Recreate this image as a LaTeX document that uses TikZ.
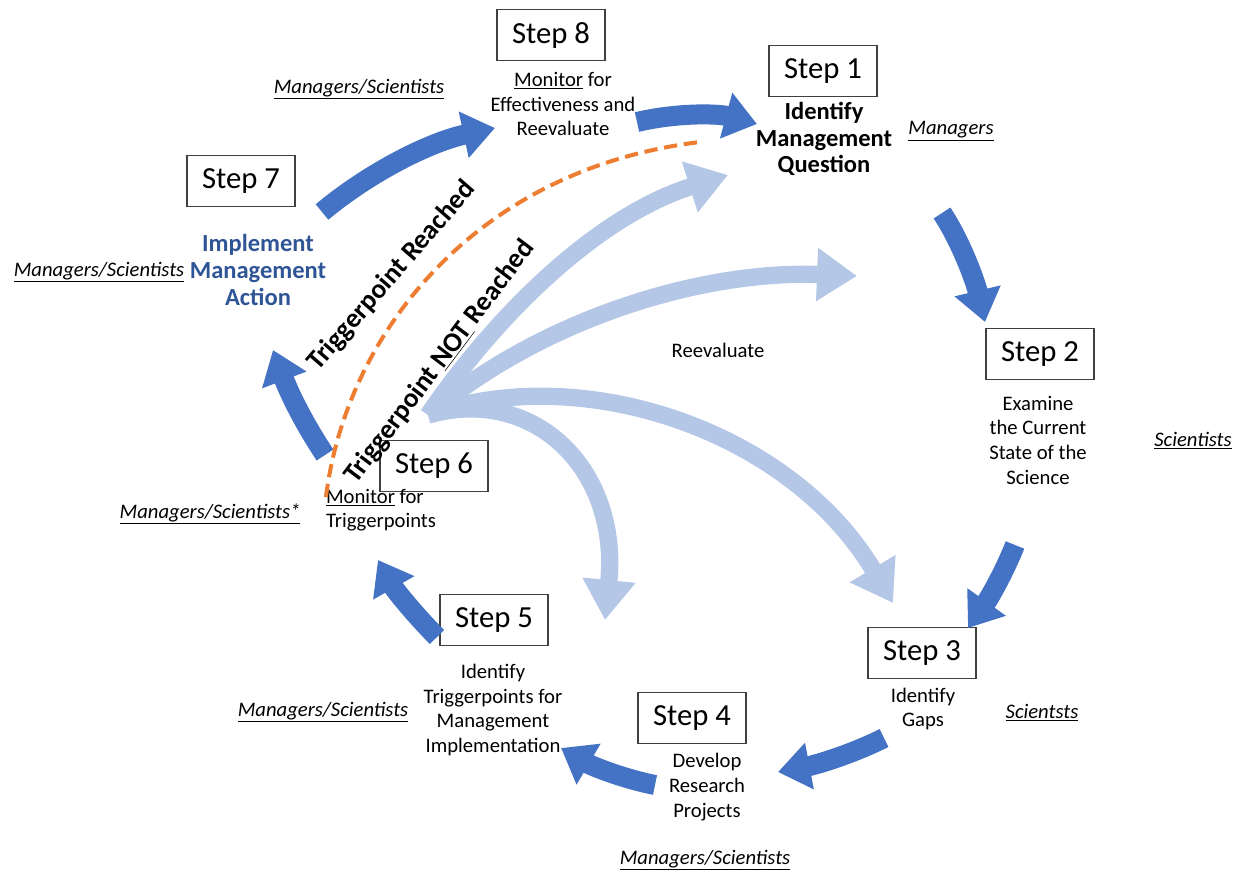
\documentclass[tikz,border=0pt]{standalone}
\usepackage{fontspec}
\setmainfont{Carlito}
\usetikzlibrary{arrows.meta}
\definecolor{darkflow}{HTML}{4472C4}
\definecolor{lightflow}{HTML}{B4C7E7}
\definecolor{trigline}{HTML}{ED7D31}
\definecolor{acttext}{HTML}{2F5597}
\begin{document}
\begin{tikzpicture}[x=0.75pt,y=-0.75pt,
    stepbox/.style={draw=black!75,line width=0.8pt,minimum width=81pt,minimum height=38pt,inner sep=0pt,font=\fontsize{23}{28}\selectfont},
    desc/.style={align=center,font=\fontsize{15.5}{18.5}\selectfont},
    keydesc/.style={align=center,font=\bfseries\fontsize{18.4}{20}\selectfont},
    role/.style={font=\fontsize{15.5}{18.5}\selectfont\itshape},
    turn/.style={font=\bfseries\fontsize{20.5}{24}\selectfont},
    main/.style={draw=darkflow,line width=15pt,-{Triangle[width=34pt,length=24pt]}},
    back/.style={draw=lightflow,line width=13pt,-{Triangle[width=38pt,length=30pt]}}]
    \useasboundingbox (0,0) rectangle (1249,872);
    % steps
    \node[stepbox] (s8) at (551,35) {Step 8};
    \node[stepbox] (s1) at (823,71) {Step 1};
    \node[stepbox] (s2) at (1040,354) {Step 2};
    \node[stepbox] (s3) at (922,653) {Step 3};
    \node[stepbox] (s4) at (692,718) {Step 4};
    \node[stepbox] (s5) at (494,620) {Step 5};
    \node[stepbox] (s6) at (434,466) {Step 6};
    \node[stepbox] (s7) at (241,181) {Step 7};
    \node[desc] (t8) at (563,104) {\underline{Monitor} for\\Effectiveness and\\Reevaluate};
    \node[keydesc] (t1) at (824,139) {Identify\\Management\\Question};
    \node[desc] (t2) at (1038,440) {Examine\\the Current\\State of the\\Science};
    \node[desc] (t3) at (923,709) {Identify\\Gaps};
    \node[desc] (t4) at (707,787) {Develop\\Research\\Projects};
    \node[desc] (t5) at (493,710) {Identify\\Triggerpoints for\\Management\\Implementation};
    \node[desc,align=left] (t6) at (381,510) {\underline{Monitor} for\\Triggerpoints};
    \node[keydesc,text=acttext] (t7) at (258,270) {Implement\\Management\\Action};
    \node[role] (w8) at (359,89) {\underline{Managers/Scientists}};
    \node[role] (w1) at (951,131) {\underline{Managers}};
    \node[role] (w2) at (1193,441) {\underline{Scientists}};
    \node[role] (w3) at (1042,713) {\underline{Scientsts}};
    \node[role] (w4) at (705,860) {\underline{Managers/Scientists}};
    \node[role] (w5) at (323,712) {\underline{Managers/Scientists}};
    \node[role] (w6) at (210,514) {\underline{Managers/Scientists*}};
    \node[role] (w7) at (99,272) {\underline{Managers/Scientists}};
    \node[desc] (re) at (718,350) {Reevaluate};
    % reevaluate loops
    \coordinate (hub) at (428,415);
    \coordinate (ha) at (728,175);
    \coordinate (hb) at (857,276);
    \coordinate (hc) at (893,603);
    \coordinate (hd) at (605,620);
    \draw[back] (hub) .. controls (500,310) and (600,215) .. (ha);
    \draw[back] (hub) .. controls (540,320) and (700,270) .. (hb);
    \draw[back] (hub) .. controls (580,360) and (790,430) .. (hc);
    \draw[back] (hub) .. controls (535,385) and (620,470) .. (hd);
    % main cycle
    \coordinate (a78) at (322,212);
    \coordinate (b78) at (495,128);
    \coordinate (a81) at (637,122);
    \coordinate (b81) at (757,124);
    \coordinate (a12) at (942,213);
    \coordinate (b12) at (985,322);
    \coordinate (a23) at (1015,545);
    \coordinate (b23) at (968,628);
    \coordinate (a34) at (884,738);
    \coordinate (b34) at (778,772);
    \coordinate (a45) at (655,785);
    \coordinate (b45) at (561,748);
    \coordinate (a56) at (437,637);
    \coordinate (b56) at (378,560);
    \coordinate (a67) at (325,455);
    \coordinate (b67) at (273,350);
    \draw[main] (a78) .. controls (370,172) and (430,142) .. (b78);
    \draw[main] (a81) .. controls (680,112) and (720,114) .. (b81);
    \draw[main] (a12) .. controls (960,240) and (975,280) .. (b12);
    \draw[main] (a23) .. controls (1003,575) and (988,600) .. (b23);
    \draw[main] (a34) .. controls (850,755) and (815,765) .. (b34);
    \draw[main] (a45) .. controls (620,778) and (590,765) .. (b45);
    \draw[main] (a56) .. controls (415,615) and (395,590) .. (b56);
    \draw[main] (a67) .. controls (305,425) and (290,395) .. (b67);
    % trigger line
    \coordinate (ta) at (326,497);
    \coordinate (tb) at (700,142);
    \draw[trigline,line width=3pt,dash pattern=on 10pt off 5pt] (ta) .. controls (345,340) and (470,170) .. (tb);
    \node[turn,rotate=49] (hit) at (392,276) {Triggerpoint Reached};
    \node[turn,rotate=53] (miss) at (440,362) {Triggerpoint \underline{NOT} Reached};
\end{tikzpicture}
\end{document}
